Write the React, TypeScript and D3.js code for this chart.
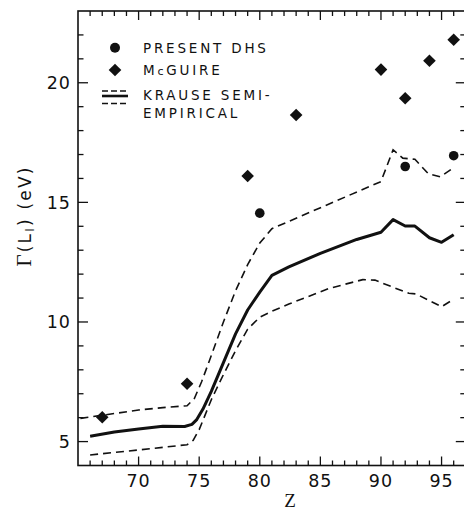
import React from "react";
import * as d3 from "d3";

// Present DHS (circles)
const dhsZ = [80, 92, 96];
const dhsG = [14.55, 16.5, 16.95];
// McGuire (diamonds)
const mcgZ = [67, 74, 79, 83, 90, 92, 94, 96];
const mcgG = [6.02, 7.42, 16.1, 18.65, 20.55, 19.35, 20.92, 21.8];
// Krause semi-empirical (solid)
const krZ = [66, 68, 70, 72, 73.8, 74.4, 74.8, 75.3, 76, 77, 78, 79, 80, 81, 82.4, 85, 88, 90, 91, 92, 92.8, 94, 95, 96];
const krG = [5.22, 5.4, 5.53, 5.64, 5.63, 5.72, 5.92, 6.35, 7.1, 8.3, 9.5, 10.5, 11.25, 11.95, 12.3, 12.87, 13.45, 13.75, 14.28, 14.01, 14.01, 13.52, 13.33, 13.65];
// Krause upper bound (dashed)
const upZ = [65.2, 67, 70, 72, 74, 74.6, 75.2, 76, 77, 78, 79, 80, 81, 90, 91, 91.8, 92.8, 93.9, 94.9, 96];
const upG = [5.97, 6.1, 6.32, 6.42, 6.5, 6.8, 7.5, 8.6, 10.0, 11.3, 12.4, 13.3, 13.9, 15.87, 17.2, 16.85, 16.8, 16.2, 16.07, 16.45];
// Krause lower bound (dashed)
const loZ = [66, 70, 74, 74.5, 75, 76, 77, 78, 79, 80, 81, 82.4, 85.7, 88.5, 89.5, 91, 92.3, 92.9, 95, 96];
const loG = [4.44, 4.65, 4.87, 5.05, 5.5, 6.75, 7.8, 8.8, 9.7, 10.2, 10.45, 10.75, 11.4, 11.77, 11.75, 11.45, 11.2, 11.17, 10.64, 10.95];

const xTickLabels = [70, 75, 80, 85, 90, 95];
const yTickLabels = [5, 10, 15, 20];

const W = 464;
const H = 512;

export default function App() {
  const x = d3.scaleLinear().domain([65, 97]).range([78, 465.8]);
  const y = d3.scaleLinear().domain([4, 23]).range([465.5, 11]);
  const line = d3
    .line<[number, number]>()
    .x((d) => x(d[0]))
    .y((d) => y(d[1]));
  const pts = (zs: number[], gs: number[]) => zs.map((z, i) => [z, gs[i]] as [number, number]);

  const x0 = x.range()[0];
  const x1 = x.range()[1];
  const y0 = y.range()[0];
  const y1 = y.range()[1];

  const xTicks = d3.range(66, 97, 1);
  const yTicks = d3.range(5, 23, 1);
  const sans = "'DejaVu Sans', sans-serif";
  const serif = "'Liberation Serif', 'DejaVu Serif', serif";

  const diamond = (cx: number, cy: number, r: number) =>
    `M${cx},${cy - r}L${cx + r},${cy}L${cx},${cy + r}L${cx - r},${cy}Z`;

  return (
    <svg width={W} height={H} style={{ position: "absolute", left: 0, top: 0, background: "#fff" }}>
      <rect x={0} y={0} width={W} height={H} fill="#fff" />
      {/* frame */}
      <rect x={x0} y={y1} width={x1 - x0} height={y0 - y1} fill="none" stroke="#111" strokeWidth={1.6} />
      {/* x ticks bottom & top */}
      {xTicks.map((t) => {
        const major = t % 5 === 0;
        return (
          <g key={"xt" + t}>
            <line x1={x(t)} x2={x(t)} y1={y0} y2={y0 - (major ? 9 : 5)} stroke="#111" strokeWidth={1.3} />
            <line x1={x(t)} x2={x(t)} y1={y1} y2={y1 + (major ? 9 : 5)} stroke="#111" strokeWidth={1.3} />
          </g>
        );
      })}
      {/* y ticks left & right */}
      {yTicks.map((t) => {
        const major = t % 5 === 0;
        return (
          <g key={"yt" + t}>
            <line x1={x0} x2={x0 + (major ? 10 : 5.5)} y1={y(t)} y2={y(t)} stroke="#111" strokeWidth={1.3} />
            <line x1={x1} x2={x1 - (major ? 10 : 5.5)} y1={y(t)} y2={y(t)} stroke="#111" strokeWidth={1.3} />
          </g>
        );
      })}
      {/* tick labels */}
      {xTickLabels.map((t) => (
        <text key={"xl" + t} x={x(t)} y={487} textAnchor="middle" fontFamily={sans} fontSize={17.5} letterSpacing={1} fill="#111">
          {t}
        </text>
      ))}
      {yTickLabels.map((t) => (
        <text key={"yl" + t} x={71} y={y(t) + 6.5} textAnchor="end" fontFamily={sans} fontSize={17.5} letterSpacing={1} fill="#111">
          {t}
        </text>
      ))}
      {/* axis titles */}
      <text x={290} y={507} textAnchor="middle" fontFamily={serif} fontSize={19} fill="#111">
        Z
      </text>
      <text
        transform="translate(31,216) rotate(-90)"
        textAnchor="middle"
        fontFamily={sans}
        fontSize={17}
        letterSpacing={2.2}
        fill="#111"
      >
        <tspan fontFamily={serif} fontSize={21}>Γ</tspan>
        <tspan>(L</tspan>
        <tspan fontSize={12} dy={3}>I</tspan>
        <tspan dy={-3}>)  (eV)</tspan>
      </text>

      {/* Krause curves */}
      <path d={line(pts(upZ, upG)) || ""} fill="none" stroke="#111" strokeWidth={1.6} strokeDasharray="8,5" />
      <path d={line(pts(loZ, loG)) || ""} fill="none" stroke="#111" strokeWidth={1.6} strokeDasharray="8,5" />
      <path d={line(pts(krZ, krG)) || ""} fill="none" stroke="#111" strokeWidth={3} strokeLinejoin="round" />

      {/* data points */}
      {mcgZ.map((z, i) => (
        <path key={"m" + i} d={diamond(x(z), y(mcgG[i]), 6.3)} fill="#111" />
      ))}
      {dhsZ.map((z, i) => (
        <circle key={"d" + i} cx={x(z)} cy={y(dhsG[i])} r={4.8} fill="#111" />
      ))}

      {/* legend */}
      <circle cx={115} cy={47.7} r={5} fill="#111" />
      <text x={143} y={52.7} fontFamily={sans} fontSize={13.5} letterSpacing={2.8} fill="#111">
        PRESENT DHS
      </text>
      <path d={diamond(115, 70, 6.3)} fill="#111" />
      <text x={143} y={75.2} fontFamily={sans} fontSize={13.5} letterSpacing={2.8} fill="#111">
        <tspan>M</tspan>
        <tspan fontSize={11}>c</tspan>
        <tspan>GUIRE</tspan>
      </text>
      <line x1={102} x2={128} y1={91} y2={91} stroke="#111" strokeWidth={1.4} strokeDasharray="6,3" />
      <line x1={102} x2={128} y1={96} y2={96} stroke="#111" strokeWidth={2.6} />
      <line x1={102} x2={128} y1={103.5} y2={103.5} stroke="#111" strokeWidth={1.4} strokeDasharray="6,3" />
      <text x={143} y={100.2} fontFamily={sans} fontSize={13.5} letterSpacing={2.8} fill="#111">
        KRAUSE SEMI-
      </text>
      <text x={143} y={118.2} fontFamily={sans} fontSize={13.5} letterSpacing={2.8} fill="#111">
        EMPIRICAL
      </text>
    </svg>
  );
}
